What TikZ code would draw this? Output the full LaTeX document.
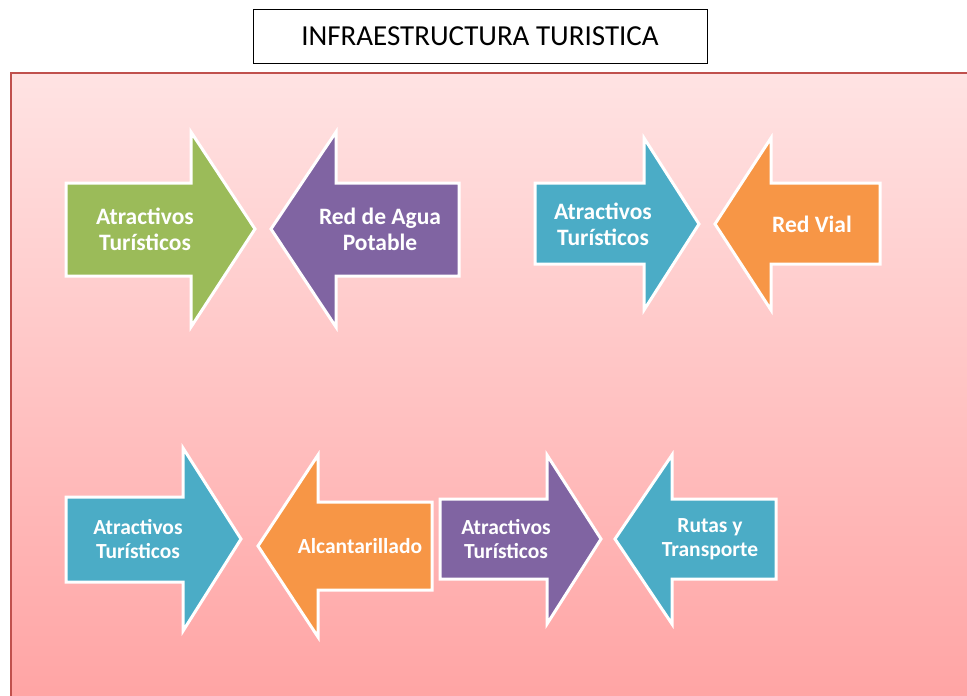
\documentclass[tikz,border=0pt]{standalone}
\usepackage{fontspec}
\setmainfont{Carlito}
\definecolor{agreen}{HTML}{9BBB59}
\definecolor{apurple}{HTML}{8064A2}
\definecolor{ateal}{HTML}{4BACC6}
\definecolor{aorange}{HTML}{F79646}
\definecolor{frameRed}{HTML}{C0504D}
\definecolor{bgTop}{HTML}{FFE3E3}
\definecolor{bgBot}{HTML}{FFA3A3}
\tikzset{
  arrowshape/.style={draw=white, line width=3pt, line join=miter, miter limit=10},
  bigtext/.style={text=white, font=\fontsize{23.5}{26}\selectfont\bfseries, align=center, inner sep=0pt},
  smalltext/.style={text=white, font=\fontsize{21.5}{23.5}\selectfont\bfseries, align=center, inner sep=0pt},
  titlebox/.style={draw=black, line width=0.8pt, minimum width=454pt, minimum height=54pt, inner sep=0pt, font=\fontsize{29}{34}\selectfont}
}
\begin{document}
\begin{tikzpicture}[x=1pt,y=-1pt]
\useasboundingbox (0,0) rectangle (967,696);
% background panel
\shade[top color=bgTop, bottom color=bgBot] (11,73) rectangle (980,710);
\draw[frameRed, line width=1.5pt] (980,73) -- (11,73) -- (11,710);
% title
\node[titlebox] (title) at (480,36) {INFRAESTRUCTURA TURISTICA};

% Row 1 left pair
\fill[agreen] [arrowshape] (66,183) -- (191,183) -- (191,132) -- (255,229) -- (191,327) -- (191,276) -- (66,276) -- cycle;
\node[bigtext] (t1) at (145,229) {Atractivos\\Turísticos};
\fill[apurple] [arrowshape] (459,183) -- (336,183) -- (336,132) -- (271,229) -- (336,327) -- (336,276) -- (459,276) -- cycle;
\node[bigtext] (t2) at (380,229) {Red de Agua\\Potable};

% Row 1 right pair
\fill[ateal] [arrowshape] (535,183) -- (644,183) -- (644,138) -- (699,224) -- (644,310) -- (644,264) -- (535,264) -- cycle;
\node[bigtext] (t3) at (603,224) {Atractivos\\Turísticos};
\fill[aorange] [arrowshape] (880,183) -- (771,183) -- (771,138) -- (715,224) -- (771,310) -- (771,264) -- (880,264) -- cycle;
\node[bigtext] (t4) at (812,224) {Red Vial};

% Row 2
\fill[ateal] [arrowshape] (66,497) -- (183,497) -- (183,448) -- (241,539) -- (183,631) -- (183,582) -- (66,582) -- cycle;
\node[smalltext] (t5) at (138,539) {Atractivos\\Turísticos};
\fill[aorange] [arrowshape] (432,502) -- (318,502) -- (318,455) -- (258,546) -- (318,637) -- (318,590) -- (432,590) -- cycle;
\node[smalltext] (t6) at (360,546) {Alcantarillado};
\fill[apurple] [arrowshape] (440,499) -- (547,499) -- (547,455) -- (601,539) -- (547,624) -- (547,579) -- (440,579) -- cycle;
\node[smalltext] (t7) at (506,539) {Atractivos\\Turísticos};
\fill[ateal] [arrowshape] (776,499) -- (672,499) -- (672,455) -- (615,539) -- (672,624) -- (672,579) -- (776,579) -- cycle;
\node[smalltext] (t8) at (710,539) {Rutas y\\Transporte};
\end{tikzpicture}
\end{document}
